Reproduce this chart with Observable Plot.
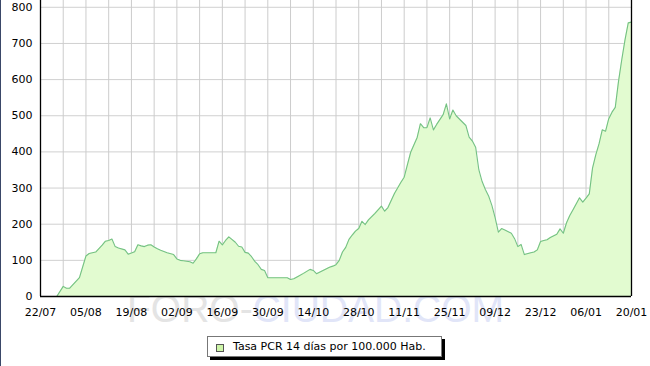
<!DOCTYPE html>
<html>
<head>
<meta charset="utf-8">
<script src="https://cdn.jsdelivr.net/npm/d3@7"></script>
<script src="https://cdn.jsdelivr.net/npm/@observablehq/plot@0.6"></script>
<style>
  html, body { margin: 0; padding: 0; background: #fff; }
  #wrap { position: relative; width: 650px; height: 366px; overflow: hidden; background: #fff; }
  #wm { position: absolute; left: 127px; top: 289px; font: 39px "Liberation Sans", Arial, sans-serif; white-space: nowrap; line-height: 1; z-index: 0; }
  #chart { position: absolute; left: 0; top: 0; z-index: 1; }
  #edge { position: absolute; left: 0; top: 0; width: 1px; height: 366px; background: #3a4868; z-index: 3; }
  #legend { position: absolute; left: 207px; top: 336px; width: 233px; height: 19px; border: 1px solid #777; background: #fff; box-shadow: 3px 3px 0 #000; z-index: 2; font: 11px "DejaVu Sans", sans-serif; color: #000; }
  #legend .sw { position: absolute; left: 8px; top: 7px; width: 6px; height: 6px; background: #cdf5a8; border: 1px solid #555; }
  #legend .lab { position: absolute; left: 25px; top: 3px; white-space: nowrap; }
</style>
</head>
<body>
<div id="wrap">
  <div id="wm"><span style="color:#e4e4e4">FORO-</span><span style="color:#e1e5f8">CIUDAD.COM</span></div>
  <div id="chart"></div>
  <div id="edge"></div>
  <div id="legend"><div class="sw"></div><div class="lab">Tasa PCR 14 días por 100.000 Hab.</div></div>
</div>
<script>
const seriesName = "Tasa PCR 14 días por 100.000 Hab.";
const dates = [
  "2020-07-27","2020-07-29","2020-07-30","2020-07-31","2020-08-03","2020-08-05","2020-08-06","2020-08-07","2020-08-08","2020-08-10",
  "2020-08-11","2020-08-12","2020-08-13","2020-08-14","2020-08-15","2020-08-17","2020-08-18","2020-08-20","2020-08-21","2020-08-22",
  "2020-08-23","2020-08-24","2020-08-25","2020-08-26","2020-08-27","2020-08-28","2020-08-30","2020-09-01","2020-09-02","2020-09-03",
  "2020-09-04","2020-09-06","2020-09-07","2020-09-08","2020-09-09","2020-09-10","2020-09-14","2020-09-15","2020-09-16","2020-09-17",
  "2020-09-18","2020-09-20","2020-09-21","2020-09-22","2020-09-23","2020-09-24","2020-09-25","2020-09-26","2020-09-27","2020-09-28",
  "2020-09-29","2020-09-30","2020-10-06","2020-10-07","2020-10-08","2020-10-09","2020-10-11","2020-10-13","2020-10-14","2020-10-15",
  "2020-10-17","2020-10-19","2020-10-20","2020-10-21","2020-10-22","2020-10-23","2020-10-24","2020-10-25","2020-10-26","2020-10-27",
  "2020-10-28","2020-10-29","2020-10-30","2020-10-31","2020-11-02","2020-11-04","2020-11-05","2020-11-06","2020-11-08","2020-11-10",
  "2020-11-11","2020-11-12","2020-11-13","2020-11-15","2020-11-16","2020-11-17","2020-11-18","2020-11-19","2020-11-20","2020-11-21",
  "2020-11-23","2020-11-24","2020-11-25","2020-11-26","2020-11-27","2020-11-29","2020-11-30","2020-12-01","2020-12-02","2020-12-03",
  "2020-12-04","2020-12-05","2020-12-06","2020-12-07","2020-12-08","2020-12-09","2020-12-10","2020-12-11","2020-12-12","2020-12-14",
  "2020-12-15","2020-12-16","2020-12-17","2020-12-18","2020-12-20","2020-12-21","2020-12-22","2020-12-23","2020-12-24","2020-12-25",
  "2020-12-26","2020-12-28","2020-12-29","2020-12-30","2020-12-31","2021-01-01","2021-01-02","2021-01-04","2021-01-05","2021-01-06",
  "2021-01-07","2021-01-08","2021-01-09","2021-01-10","2021-01-11","2021-01-12","2021-01-13","2021-01-14","2021-01-15","2021-01-16",
  "2021-01-17","2021-01-18","2021-01-19","2021-01-20"
];
const values = [
  0,28,23,23,52,112,119,121,123,142,
  153,155,159,138,134,129,117,124,143,140,
  138,142,143,137,132,128,121,116,104,100,
  99,96,92,104,118,121,121,153,143,155,
  165,150,139,137,122,120,110,97,88,75,
  72,52,52,47,49,54,64,75,72,63,
  72,81,84,88,100,123,136,158,170,181,
  188,208,199,212,230,250,236,246,285,316,
  330,365,399,440,478,467,467,494,461,476,
  503,533,491,516,500,482,473,441,430,413,
  350,318,296,278,252,218,178,188,184,175,
  160,138,144,116,121,123,129,152,155,157,
  163,172,187,175,204,224,240,273,261,272,
  284,355,392,422,461,457,492,510,523,595,
  655,710,757,759
];
const tickDates = ["2020-07-22","2020-08-05","2020-08-19","2020-09-02","2020-09-16","2020-09-30","2020-10-14","2020-10-28","2020-11-11","2020-11-25","2020-12-09","2020-12-23","2021-01-06","2021-01-20"];
const tickLabels = ["22/07","05/08","19/08","02/09","16/09","30/09","14/10","28/10","11/11","25/11","09/12","23/12","06/01","20/01"];
const yTicks = [0,100,200,300,400,500,600,700,800];

const data = dates.map((d, i) => ({date: new Date(d), value: values[i], series: seriesName}));
const start = new Date(tickDates[0]);
const end = new Date(tickDates[tickDates.length - 1]);
const ticks = tickDates.map(d => new Date(d));
const labelOf = new Map(ticks.map((t, i) => [+t, tickLabels[i]]));
const weekly = d3.range(0, 183, 7).map(k => d3.utcDay.offset(start, k));

const chart = Plot.plot({
  width: 650,
  height: 366,
  marginLeft: 40,
  marginRight: 19,
  marginTop: 0,
  marginBottom: 70,
  style: {background: "transparent", fontFamily: "'DejaVu Sans', sans-serif", fontSize: "11px", color: "#000"},
  x: {type: "utc", domain: [start, end]},
  y: {domain: [0, 818.8]},
  marks: [
    Plot.ruleY(yTicks, {stroke: "#d0d0d0", strokeWidth: 1}),
    Plot.ruleX(weekly, {stroke: "#cccccc", strokeWidth: 1}),
    Plot.areaY(data, {x: "date", y: "value", fill: "#e2fbd0", curve: "linear"}),
    Plot.lineY(data, {x: "date", y: "value", stroke: "#74c184", strokeWidth: 1.1, curve: "linear"}),
    Plot.ruleX([start, end], {stroke: "#000", strokeWidth: 1.3}),
    Plot.ruleY([0], {stroke: "#000", strokeWidth: 1.3}),
    Plot.axisY({ticks: yTicks, tickSize: 0, tickPadding: 8, label: null}),
    Plot.axisX({ticks: ticks, tickSize: 0, tickPadding: 12, label: null, tickFormat: d => labelOf.get(+d)})
  ]
});
document.getElementById("chart").appendChild(chart);
</script>
</body>
</html>
